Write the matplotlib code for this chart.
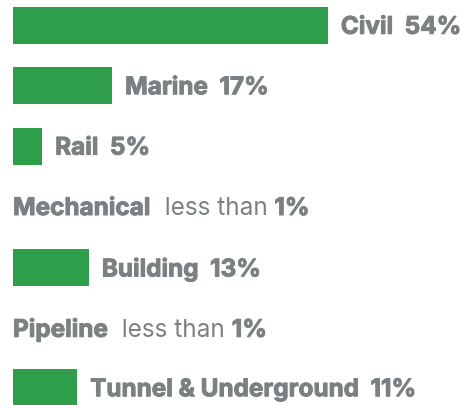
import matplotlib
matplotlib.use("Agg")
import matplotlib.pyplot as plt
import matplotlib.patheffects as pe

# ============================================================================ #
# data

sectors  = ["Civil", "Marine", "Rail", "Mechanical", "Building", "Pipeline", "Tunnel & Underground"]
shares   = [54, 17, 5, 0, 13, 0, 11]                # percent, 0 = "less than 1%"
labels   = ["54%", "17%", "5%", "1%", "13%", "1%", "11%"]
isSmall  = [False, False, False, True, False, True, False]

green = "#2e9e4a"
grey  = "#7b8082"

plt.rcParams["font.family"] = ["Inter", "DejaVu Sans"]

fig = plt.figure(figsize=(4.64, 4.05), dpi=100)
ax  = fig.add_axes([0, 0, 1, 1])

pxPerPct = 5.83
ax.set_xlim(-13 / pxPerPct, (464 - 13) / pxPerPct)
ax.set_ylim((405 - 25.5) / 60.4, -25.5 / 60.4)
ax.axis("off")

ax.barh(range(len(sectors)), shares, height=0.613, color=green, left=0)

fs = 17.5
heavy = [pe.withStroke(linewidth=0.7, foreground=grey)]     # thicken the bold a bit
for i, (name, val, lab, small) in enumerate(zip(sectors, shares, labels, isSmall)) :
    x0 = val + (13 / pxPerPct if val else 0)
    if small :
        t = ax.text(x0, i + 0.03, name, fontsize=fs, fontweight="bold", color=grey, va="center", path_effects=heavy)
        t = ax.annotate("  less than ", xy=(1, 0), xycoords=t, fontsize=fs, fontweight="normal", color=grey, va="bottom")
        ax.annotate(lab, xy=(1, 0), xycoords=t, fontsize=fs, fontweight="bold", color=grey, va="bottom", path_effects=heavy)
    else :
        ax.text(x0, i + 0.03, name + "  " + lab, fontsize=fs, fontweight="bold", color=grey, va="center", path_effects=heavy)

fig.savefig("out.png", dpi=100)
